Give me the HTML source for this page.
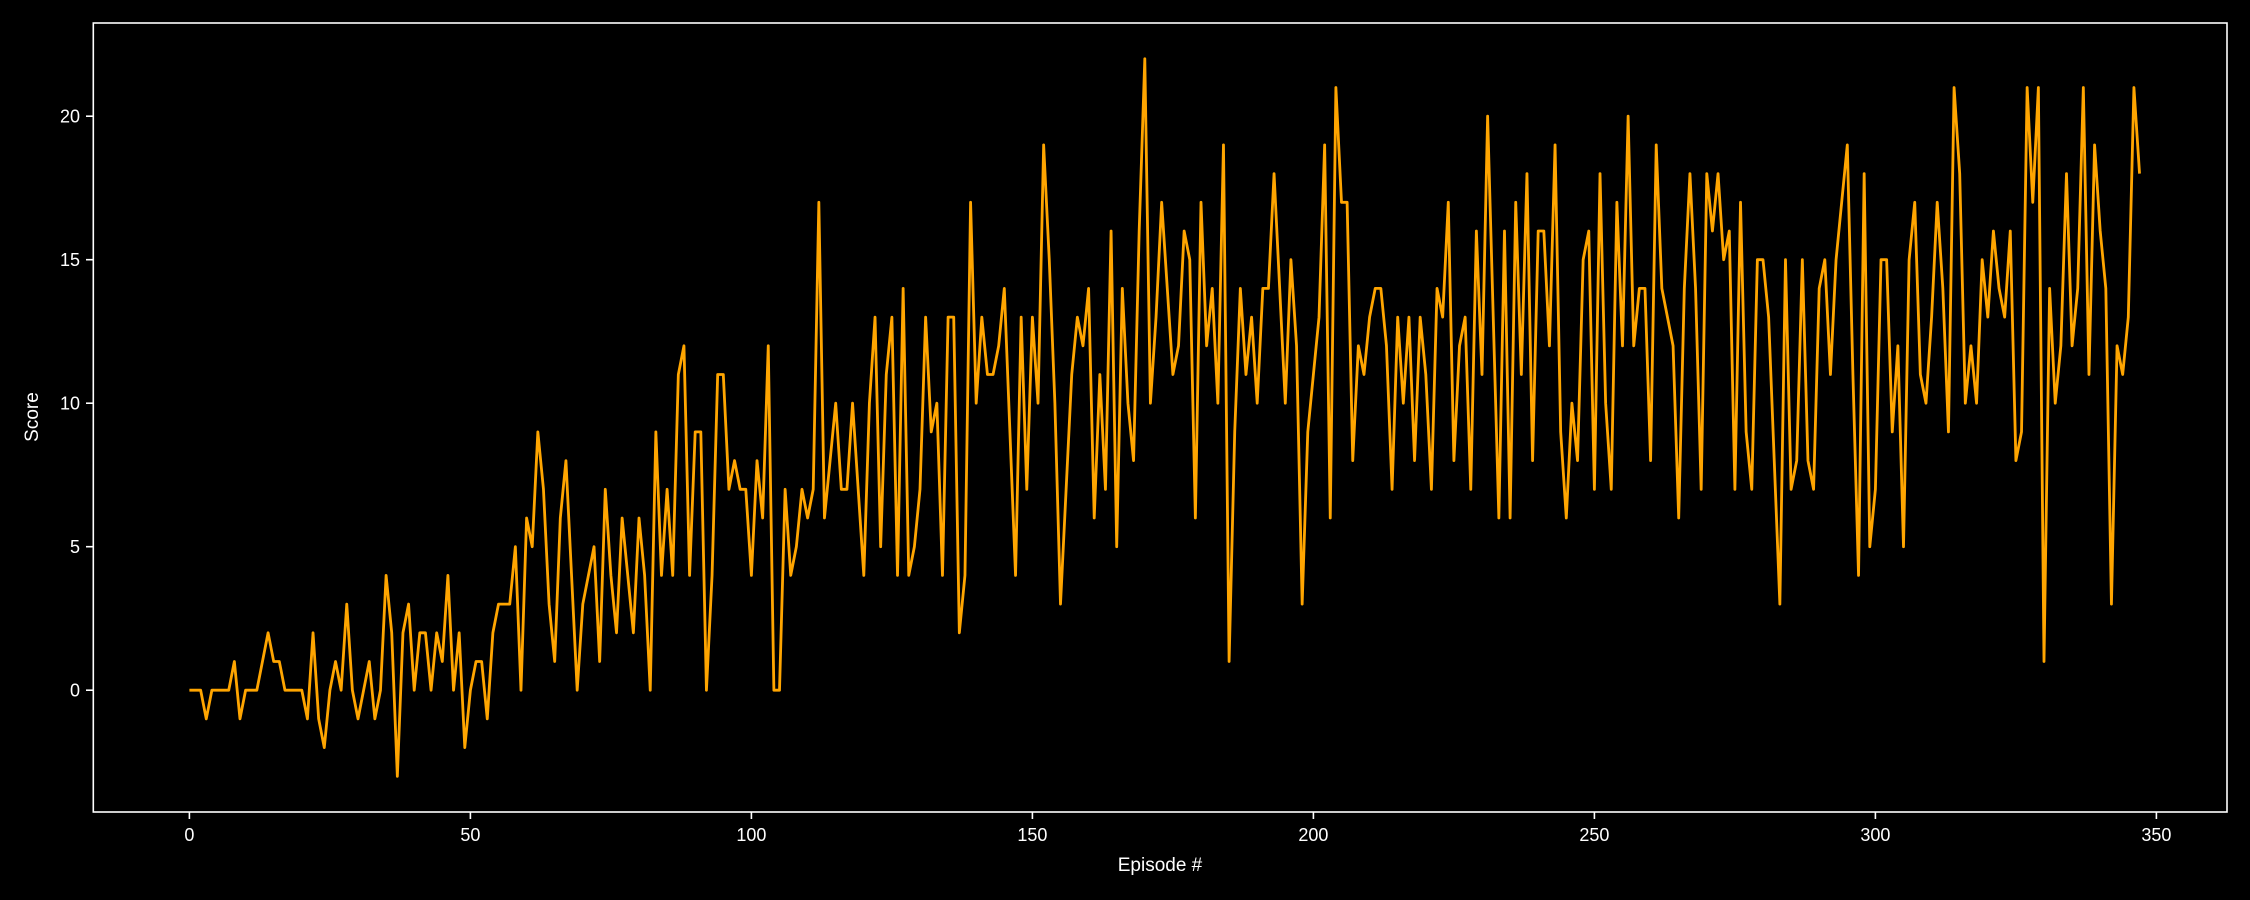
<!DOCTYPE html>
<html><head><meta charset="utf-8"><style>
html,body{margin:0;padding:0;background:#000;}
svg{display:block;}
text{font-family:"Liberation Sans","DejaVu Sans",sans-serif;fill:#fff;}
</style></head><body>
<svg id="chart" width="2250" height="900" viewBox="0 0 2250 900" xmlns="http://www.w3.org/2000/svg">
<rect x="0" y="0" width="2250" height="900" fill="#000"/>
<g id="axes"></g>
<path id="line" fill="none" stroke="#ffa500" stroke-width="2.8" stroke-linejoin="round"/>
<rect x="93.3" y="23" width="2133.7" height="789" fill="none" stroke="#fff" stroke-width="1.6"/>
<text x="1160" y="871" font-size="19" text-anchor="middle">Episode #</text>
<text x="38" y="417" font-size="19" text-anchor="middle" transform="rotate(-90 38 417)">Score</text>
</svg>
<script>
const scores = [0,0,0,-1,0,0,0,0,1,-1,0,0,0,1,2,1,1,0,0,0,0,-1,2,-1,-2,0,1,0,3,0,
-1,0,1,-1,0,4,2,-3,2,3,0,2,2,0,2,1,4,0,2,-2,0,1,1,-1,2,3,3,3,5,0,
6,5,9,7,3,1,6,8,4,0,3,4,5,1,7,4,2,6,4,2,6,4,0,9,4,7,4,11,12,4,
9,9,0,4,11,11,7,8,7,7,4,8,6,12,0,0,7,4,5,7,6,7,17,6,8,10,7,7,10,7,
4,10,13,5,11,13,4,14,4,5,7,13,9,10,4,13,13,2,4,17,10,13,11,11,12,14,9,4,13,7,
13,10,19,15,10,3,7,11,13,12,14,6,11,7,16,5,14,10,8,16,22,10,13,17,14,11,12,16,15,6,
17,12,14,10,19,1,9,14,11,13,10,14,14,18,14,10,15,12,3,9,11,13,19,6,21,17,17,8,12,11,
13,14,14,12,7,13,10,13,8,13,11,7,14,13,17,8,12,13,7,16,11,20,13,6,16,6,17,11,18,8,
16,16,12,19,9,6,10,8,15,16,7,18,10,7,17,12,20,12,14,14,8,19,14,13,12,6,14,18,14,7,
18,16,18,15,16,7,17,9,7,15,15,13,8,3,15,7,8,15,8,7,14,15,11,15,17,19,11,4,18,5,
7,15,15,9,12,5,15,17,11,10,13,17,14,9,21,18,10,12,10,15,13,16,14,13,16,8,9,21,17,21,
1,14,10,12,18,12,14,21,11,19,16,14,3,12,11,13,21,18];
const xTicks = [0,50,100,150,200,250,300,350];
const yTicks = [0,5,10,15,20];

function xScale(v){ return 189.4 + v*5.62; }
function yScale(v){ return 690.2 - v*28.7; }

const NS = "http://www.w3.org/2000/svg";
const axes = document.getElementById('axes');
xTicks.forEach(t => {
  const x = xScale(t);
  const l = document.createElementNS(NS,'line');
  l.setAttribute('x1',x); l.setAttribute('x2',x); l.setAttribute('y1',812); l.setAttribute('y2',819);
  l.setAttribute('stroke','#fff'); l.setAttribute('stroke-width','1.6');
  
  
  axes.appendChild(l);
  const tx = document.createElementNS(NS,'text');
  tx.setAttribute('x',x); tx.setAttribute('y',841); tx.setAttribute('font-size','18');
  tx.setAttribute('text-anchor','middle'); tx.textContent = t;
  
  
  axes.appendChild(tx);
});
yTicks.forEach(t => {
  const y = yScale(t);
  const l = document.createElementNS(NS,'line');
  l.setAttribute('x1',86); l.setAttribute('x2',93.3); l.setAttribute('y1',y); l.setAttribute('y2',y);
  l.setAttribute('stroke','#fff'); l.setAttribute('stroke-width','1.6');
  
  
  axes.appendChild(l);
  const tx = document.createElementNS(NS,'text');
  tx.setAttribute('x',80); tx.setAttribute('y',y+6.5); tx.setAttribute('font-size','18');
  tx.setAttribute('text-anchor','end'); tx.textContent = t;
  
  
  axes.appendChild(tx);
});
let d = '';
scores.forEach((v,i) => { d += (i ? 'L' : 'M') + xScale(i).toFixed(2) + ' ' + yScale(v).toFixed(2); });
document.getElementById('line').setAttribute('d', d);
</script>
</body></html>
